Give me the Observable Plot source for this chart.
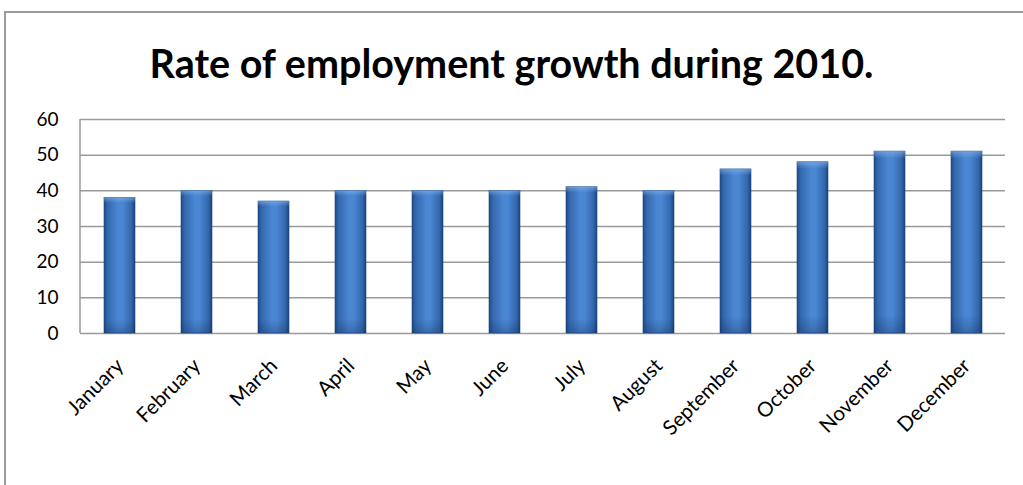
<!DOCTYPE html>
<html>
<head>
<meta charset="utf-8">
<script src="https://cdn.jsdelivr.net/npm/d3@7"></script>
<script src="https://cdn.jsdelivr.net/npm/@observablehq/plot@0.6"></script>
<style>
  html, body { margin: 0; padding: 0; background: #fff; }
  #wrap { position: relative; width: 1023px; height: 485px; overflow: hidden; background: #fff; }
  #frame { position: absolute; left: 4px; top: 11px; width: 1100px; height: 600px; border-top: 2px solid #9a9a9a; border-left: 2px solid #9a9a9a; }
  #title { position: absolute; left: 0; top: 0; width: 1023px; height: 100px; text-align: center; font-family: Lato, "Open Sans", sans-serif; font-weight: bold; font-size: 39.5px; line-height: 126px; color: #000; }
  #chart { position: absolute; left: 0; top: 100px; }
</style>
</head>
<body>
<div id="wrap">
  <div id="frame"></div>
  <div id="title">Rate of employment growth during 2010.</div>
  <div id="chart"></div>
</div>
<script>
const months = ["January","February","March","April","May","June","July","August","September","October","November","December"];
const rates = [38, 40, 37, 40, 40, 40, 41, 40, 46, 48, 51, 51];
const yTicks = [0, 10, 20, 30, 40, 50, 60];

const data = months.map((m, i) => ({month: m, rate: rates[i]}));

const chart = Plot.plot({
  width: 1023,
  height: 385,
  marginTop: 19,
  marginBottom: 152,
  marginLeft: 80,
  marginRight: 18,
  style: {fontFamily: "Lato, 'Open Sans', sans-serif", fontSize: "18px", color: "#000", background: "transparent"},
  x: {domain: months, paddingInner: 0.6, paddingOuter: 0.3, label: null},
  y: {domain: [0, 60], ticks: yTicks, label: null},
  marks: [
    Plot.gridY(yTicks, {stroke: "#9a9a9a", strokeOpacity: 1, strokeWidth: 1.5}),
    Plot.barY(data, {x: "month", y: "rate", fill: "url(#barGrad)", stroke: "#1d467f", strokeWidth: 0.6}),
    Plot.barY(data, {x: "month", y: "rate", fill: "url(#barShade)"}),
    Plot.axisX({tickSize: 0, tickPadding: 29, tickRotate: -45, fontSize: 20.5}),
    Plot.axisY({ticks: yTicks, tickSize: 0, tickPadding: 22, fontSize: 19})
  ]
});

// gradient definitions
const svg = d3.select(chart);
const defs = svg.insert("defs", ":first-child");
const g = defs.append("linearGradient").attr("id", "barGrad").attr("x1", "0").attr("x2", "1").attr("y1", "0").attr("y2", "0");
[[0, "#1f4a86"], [0.12, "#3468ae"], [0.45, "#4a86d2"], [0.6, "#4a86d2"], [0.88, "#3468ae"], [1, "#1d4379"]]
  .forEach(([o, c]) => g.append("stop").attr("offset", o).attr("stop-color", c));
const s = defs.append("linearGradient").attr("id", "barShade").attr("x1", "0").attr("x2", "0").attr("y1", "0").attr("y2", "1");
[[0, "#8fbcf0", 0.55], [0.04, "#8fbcf0", 0.0], [0.9, "#0e2a55", 0.0], [1, "#0e2a55", 0.3]]
  .forEach(([o, c, op]) => s.append("stop").attr("offset", o).attr("stop-color", c).attr("stop-opacity", op));

// left plot edge line
svg.append("line").attr("x1", 80).attr("x2", 80).attr("y1", 19).attr("y2", 233).attr("stroke", "#9a9a9a").attr("stroke-width", 1.5);

document.getElementById("chart").appendChild(chart);
</script>
</body>
</html>
